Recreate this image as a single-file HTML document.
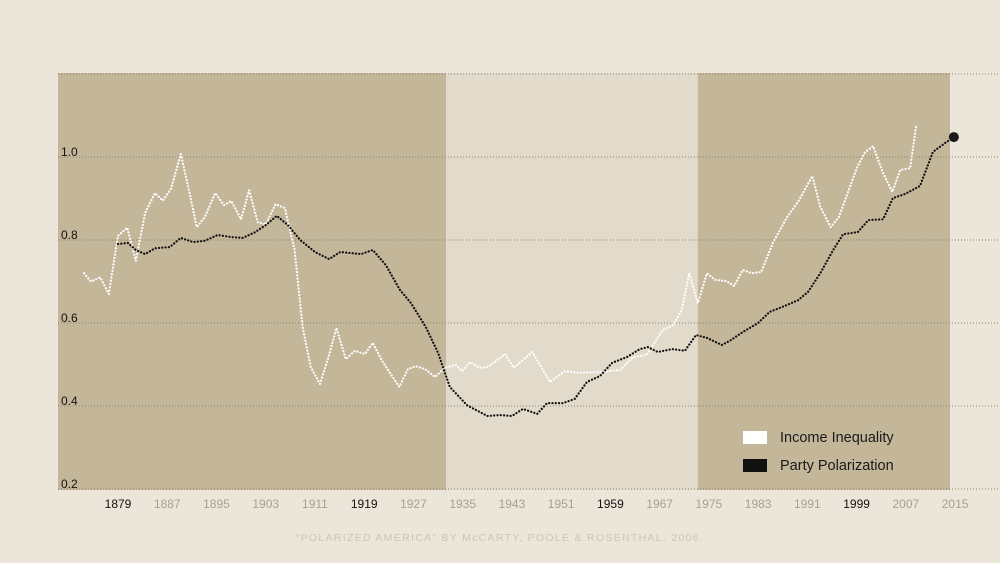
<!DOCTYPE html>
<html><head><meta charset="utf-8"><style>
body{margin:0;background:#ece6da;}
svg{display:block;font-family:"Liberation Sans",sans-serif;}
</style></head><body>
<svg width="1000" height="563" viewBox="0 0 1000 563">
<rect x="0" y="0" width="1000" height="563" fill="#ece6da"/>
<g id="bands"></g>
<g id="grid"></g>
<g id="lines"></g>
<g id="axes"></g>
<g>
<rect x="743" y="431" width="24" height="13" fill="#ffffff"/>
<text x="780" y="442" font-size="14.5" fill="#1a1a1a">Income Inequality</text>
<rect x="743" y="459" width="24" height="13" fill="#111111"/>
<text x="780" y="470" font-size="14.5" fill="#1a1a1a">Party Polarization</text>
</g>
<text x="500" y="541" text-anchor="middle" font-size="10.5" letter-spacing="1.3" fill="#cdc4b3">“POLARIZED AMERICA” BY McCARTY, POOLE &amp; ROSENTHAL. 2006.</text>
</svg>
<script>
const incomeYears=[1873.5,1874.6,1876.1,1877.5,1879,1880.5,1881.9,1883.4,1885,1886.3,1887.6,1889.2,1890.4,1891.8,1893.1,1894.8,1896.2,1897.4,1899,1900.3,1901.7,1903,1904.6,1906.1,1907.7,1909,1910.3,1911.8,1913.2,1914.5,1916,1917.5,1919.1,1920.4,1921.9,1923.4,1924.7,1926.1,1927.4,1928.9,1930.5,1932.1,1933.9,1934.9,1936.2,1937.8,1939.1,1941.9,1943.3,1946.3,1949.2,1951.6,1953.6,1957.8,1960.6,1962.7,1964.9,1967.5,1969.2,1970.6,1971.8,1973.2,1974.7,1976,1977.9,1979.1,1980.5,1982,1983.5,1985.4,1987.7,1989.5,1991.8,1993.1,1994.8,1996.1,1999.1,2000.4,2001.7,2003.3,2004.8,2006.1,2007.7,2008.7];
const incomeValues=[0.72,0.70,0.71,0.67,0.81,0.83,0.75,0.865,0.913,0.895,0.923,1.007,0.928,0.831,0.855,0.913,0.884,0.894,0.85,0.92,0.843,0.838,0.886,0.877,0.776,0.59,0.494,0.453,0.518,0.588,0.513,0.533,0.525,0.552,0.509,0.475,0.446,0.489,0.496,0.489,0.47,0.492,0.499,0.484,0.506,0.492,0.494,0.525,0.492,0.53,0.458,0.484,0.48,0.482,0.487,0.518,0.523,0.583,0.595,0.631,0.72,0.648,0.72,0.704,0.701,0.689,0.728,0.72,0.723,0.793,0.855,0.892,0.954,0.88,0.831,0.855,0.976,1.012,1.026,0.961,0.916,0.969,0.973,1.077];
const polYears=[1879,1880.6,1881.9,1883.4,1885,1887.4,1889.2,1891.2,1893.1,1895.2,1897.4,1899.3,1901.3,1903,1904.8,1906.6,1908.6,1911,1913.3,1915.1,1918.5,1920.4,1922.5,1924.8,1926.6,1929,1931,1932.9,1935.7,1939,1941.1,1943,1944.8,1947.1,1948.7,1951.3,1953.2,1955.2,1957.3,1959.3,1961.7,1963.8,1965.1,1966.7,1969,1971.1,1972.9,1974.7,1977.1,1978.4,1980.5,1983,1984.9,1987,1989.5,1991.1,1993.1,1995.2,1996.8,1999.2,2000.9,2003.3,2004.9,2006.9,2009.3,2011.4,2013.4,2014.8];
const polValues=[0.79,0.793,0.776,0.766,0.78,0.783,0.805,0.795,0.798,0.812,0.807,0.805,0.819,0.836,0.858,0.836,0.80,0.771,0.754,0.771,0.766,0.776,0.74,0.68,0.648,0.59,0.528,0.446,0.402,0.376,0.378,0.376,0.393,0.381,0.407,0.407,0.417,0.458,0.472,0.504,0.518,0.537,0.542,0.53,0.537,0.533,0.571,0.564,0.547,0.557,0.578,0.60,0.627,0.639,0.655,0.675,0.72,0.776,0.814,0.819,0.848,0.85,0.901,0.911,0.93,1.012,1.034,1.048];
const yTicks=[0.2,0.4,0.6,0.8,1.0];
const yTickLabels=["0.2","0.4","0.6","0.8","1.0"];
const xTicks=[1879,1887,1895,1903,1911,1919,1927,1935,1943,1951,1959,1967,1975,1983,1991,1999,2007,2015];
const xTickHighlight=[1879,1919,1959,1999];
const eraBreaks=[1932.3,1973.2];

const NS="http://www.w3.org/2000/svg";
const xS=yr=>118+(yr-1879)*6.155;
const yS=v=>157+(1.0-v)*415;
const X0=58,X1=950,YT=73,YB=490;
function mk(tag,attrs,parent){const e=document.createElementNS(NS,tag);for(const k in attrs)e.setAttribute(k,attrs[k]);parent.appendChild(e);return e;}

const bands=document.getElementById('bands');
const b1=mk('rect',{x:X0,y:YT,width:xS(eraBreaks[0])-X0,height:YB-YT,fill:'#c4b699'},bands);


const b2=mk('rect',{x:xS(eraBreaks[0]),y:YT,width:xS(eraBreaks[1])-xS(eraBreaks[0]),height:YB-YT,fill:'#e2dacb'},bands);


const b3=mk('rect',{x:xS(eraBreaks[1]),y:YT,width:X1-xS(eraBreaks[1]),height:YB-YT,fill:'#c4b699'},bands);



const grid=document.getElementById('grid');
[1.2,1.0,0.8,0.6,0.4,0.2].forEach(v=>{
  const l=mk('line',{x1:X0,x2:1000,y1:yS(v),y2:yS(v),stroke:'#8a8172','stroke-width':1,'stroke-dasharray':'1 2'},grid);
  
  
});

const axes=document.getElementById('axes');
yTicks.forEach((v,i)=>{
  const t=mk('text',{x:61,y:yS(v)-1,'font-size':12,fill:'#111111'},axes);
  t.textContent=yTickLabels[i];
  
  
});
xTicks.forEach(yr=>{
  const t=mk('text',{x:xS(yr),y:508,'text-anchor':'middle','font-size':12,fill:xTickHighlight.includes(yr)?'#111111':'#a7a093'},axes);
  t.textContent=yr;
  
  
});

const lines=document.getElementById('lines');
function path(xs,vs){return xs.map((x,i)=>(i?'L':'M')+xS(x).toFixed(1)+','+yS(vs[i]).toFixed(1)).join(' ');}
const inc=mk('path',{d:path(incomeYears,incomeValues),fill:'none',stroke:'#ffffff','stroke-width':2.2,'stroke-dasharray':'0.1 3.2','stroke-linecap':'round','stroke-linejoin':'round'},lines);


const pol=mk('path',{d:path(polYears,polValues),fill:'none',stroke:'#111111','stroke-width':2.2,'stroke-dasharray':'0.1 3.2','stroke-linecap':'round','stroke-linejoin':'round'},lines);


const n=polYears.length-1;
const dot=mk('circle',{cx:xS(polYears[n]),cy:yS(polValues[n]),r:5,fill:'#1a1a1a'},lines);


</script>
</body></html>
